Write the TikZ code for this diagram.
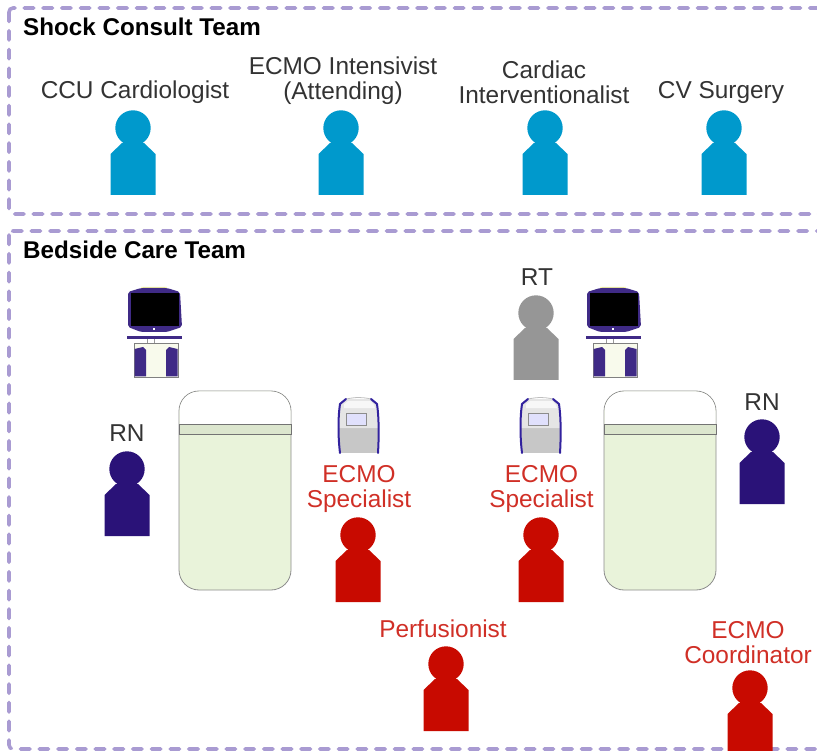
\documentclass[tikz,border=0pt]{standalone}
\usepackage{fontspec}
\setmainfont{Liberation Sans}
\definecolor{teamline}{HTML}{A99BD2}
\definecolor{consultblue}{HTML}{0099CC}
\definecolor{nurseblue}{HTML}{2A1278}
\definecolor{ecmored}{HTML}{C80A00}
\definecolor{rtgray}{HTML}{969696}
\definecolor{bedgreen}{HTML}{E9F3DA}
\definecolor{bandgreen}{HTML}{DCE6CE}
\definecolor{cartpurple}{HTML}{3F2A86}
\definecolor{cartcream}{HTML}{F8FAEC}
\tikzset{
	teambox/.style={draw=teamline,line width=3.6pt,line cap=round,dash pattern=on 9.5pt off 9.2pt,rounded corners=4pt},
	teamtitle/.style={font=\fontsize{24.2}{26}\selectfont\bfseries,anchor=west,inner sep=0pt},
	rolelabel/.style={font=\fontsize{24.4}{25}\selectfont,align=center,inner sep=0pt,text=black!80},
	redlabel/.style={rolelabel,text=ecmored!85!white},
	person/.pic={
		\fill[pic actions] (0,0) circle (17.7);
		\fill[pic actions] (-11,15) -- (-22.5,26) -- (-22.5,67) -- (22.5,67) -- (22.5,26) -- (11,15) -- cycle;
	},
	bed/.pic={
		\draw[black!45,fill=bedgreen,line width=0.8pt,rounded corners=20pt] (0,0) rectangle (112,199);
		\begin{scope}
			\clip (0,0) rectangle (112,33);
			\fill[white,rounded corners=19.5pt] (0.5,0.5) rectangle (111.5,100);
		\end{scope}
		\draw[black!55,fill=bandgreen,line width=0.8pt] (0,33) rectangle (112,43);
	},
	monitor/.pic={
		\fill[cartcream!70!yellow] (14,0) -- (40,0) -- (38,3) -- (16,3) -- cycle;
		\fill[cartpurple,rounded corners=2pt] (1,5) -- (14,1) -- (40,1) -- (53,5) -- (55,40) -- (40,45) -- (14,45) -- (1,40) -- cycle;
		\fill[black] (4,6) rectangle (52,39);
		\fill[white] (26,41) rectangle (28,43);
		\fill[cartpurple] (0,49) rectangle (55,52);
		\draw[black!40,line width=0.6pt] (20,52) -- (20,56) (27,52) -- (27,56);
		\draw[black!50,fill=cartcream,line width=0.6pt] (7,56) rectangle (51,90);
		\fill[cartpurple] (7.5,62) -- (16,60) -- (19,63) -- (19,89.5) -- (7.5,89.5) -- cycle;
		\fill[cartpurple] (50.5,62) -- (42,60) -- (39,63) -- (39,89.5) -- (50.5,89.5) -- cycle;
	},
	pump/.pic={
		\fill[black!22] (2,31) -- (41,31) -- (41,56) -- (2,56) -- cycle;
		\fill[black!10] (3,8) -- (9,2) -- (34,2) -- (40,8) -- (41,31) -- (2,31) -- cycle;
		\draw[black!25,line width=0.8pt] (9,2) .. controls (20,0) and (24,0) .. (34,2);
		\fill[black!3] (7,7) -- (11,4) -- (33,4) -- (37,8) -- (38,11) -- (7,11) -- cycle;
		\draw[black!45,fill=black!10!blue!12,line width=0.6pt] (9,16) rectangle (29,28);
		\draw[cartpurple!80!blue,line width=2pt,line cap=round] (9,2) -- (3,7) .. controls (1,20) and (1,40) .. (3,56);
		\draw[cartpurple!80!blue,line width=2pt,line cap=round] (34,2) -- (40,7) .. controls (42,20) and (42,40) .. (41,56);
	}
}
\begin{document}
\begin{tikzpicture}[x=1pt,y=-1pt]
	\useasboundingbox (0,0) rectangle (817,751);
	\clip (0,0) rectangle (817,751);

	% Riquadri delle due squadre
	\draw[teambox] (9,8) rectangle (830,214);
	\draw[teambox] (9,231) rectangle (830,749);
	\node[teamtitle] (consult) at (23,27) {Shock Consult Team};
	\node[teamtitle] (bedside) at (23,250) {Bedside Care Team};

	% Squadra di consulto
	\foreach \x in {133,341,545,724}
		\pic[consultblue] at (\x,128) {person};
	\node[rolelabel] (ccu) at (135,92) {CCU Cardiologist};
	\node[rolelabel] (intensivist) at (343,81) {ECMO Intensivist\\(Attending)};
	\node[rolelabel] (interventional) at (544,82) {Cardiac\\Interventionalist};
	\node[rolelabel] (surgery) at (721,92.5) {CV Surgery};

	% Letti, monitor e pompe
	\pic at (179,391) {bed};
	\pic at (604,391) {bed};
	\pic at (127,287) {monitor};
	\pic at (586,287) {monitor};
	\pic at (337,397) {pump};
	\pic at (519,397) {pump};

	% Squadra al letto
	\pic[rtgray] at (536,313) {person};
	\node[rolelabel] (rt) at (537,277) {RT};
	\pic[nurseblue] at (127,469) {person};
	\node[rolelabel] (rnleft) at (127,433) {RN};
	\pic[nurseblue] at (762,437) {person};
	\node[rolelabel] (rnright) at (762,402) {RN};

	\foreach \x in {358,541}
		\pic[ecmored] at (\x,535) {person};
	\node[redlabel] (specialistleft) at (359,489) {ECMO\\Specialist};
	\node[redlabel] (specialistright) at (541.5,489) {ECMO\\Specialist};
	\pic[ecmored] at (446,664) {person};
	\node[redlabel] (perfusionist) at (443,629) {Perfusionist};
	\pic[ecmored] at (750,688) {person};
	\node[redlabel] (coordinator) at (748,643) {ECMO\\Coordinator};

\end{tikzpicture}
\end{document}
